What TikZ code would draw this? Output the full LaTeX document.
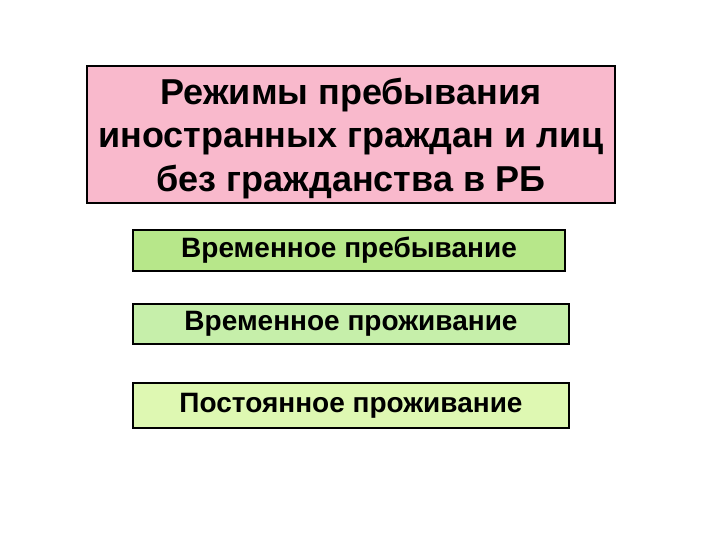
\documentclass[tikz,border=0pt]{standalone}
\usepackage{fontspec}
\setmainfont{Liberation Sans}
\usepackage{xcolor}
\usetikzlibrary{positioning}

\definecolor{titlepink}{HTML}{F9B9CC}
\definecolor{greenA}{HTML}{B7E78A}
\definecolor{greenB}{HTML}{C6EFAA}
\definecolor{greenC}{HTML}{DEF8B2}

\tikzset{
    titlebox/.style={draw=black, line width=1.2pt, fill=titlepink,
        minimum width=528pt, minimum height=137pt, inner sep=0pt},
    titletext/.style={align=center, inner sep=0pt,
        font=\fontsize{36}{43.5}\selectfont\bfseries},
    modebox/.style={draw=black, line width=1.2pt, minimum width=436pt, inner sep=0pt,
        font=\fontsize{28}{32}\selectfont\bfseries}
}

\begin{document}
\begin{tikzpicture}[x=1pt, y=-1pt]
        \useasboundingbox (0,0) rectangle (720,540);
        % Заголовок
        \node[titlebox] (regimes) at (351,134.5) {};
        \node[titletext] (regimes_text) at ([yshift=-4pt]regimes.center)
            {Режимы пребывания\\иностранных граждан и лиц\\без гражданства в РБ};

        % Режимы
        \node[modebox, fill=greenA, minimum width=432pt, minimum height=41pt] (temp_stay) at (349,250.5) {Временное пребывание};
        \node[modebox, fill=greenB, minimum height=40pt] (temp_res) at (351,324) {Временное проживание};
        \node[modebox, fill=greenC, minimum height=45pt] (perm_res) at (351,405.5) {Постоянное проживание};
    \end{tikzpicture}
\end{document}
